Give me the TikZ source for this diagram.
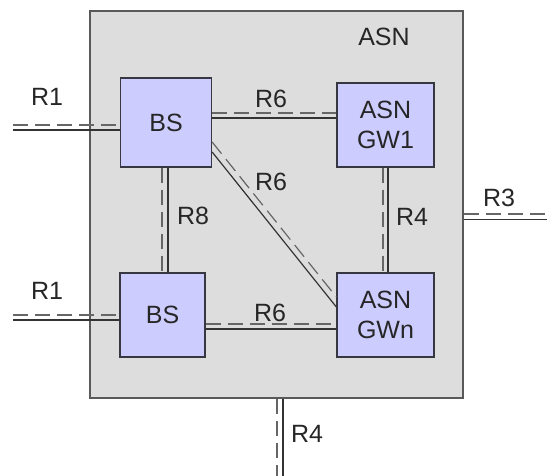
\documentclass[tikz,border=0pt]{standalone}
\usepackage{fontspec}
\setmainfont{Liberation Sans}
\usetikzlibrary{positioning}

\definecolor{asngray}{RGB}{221,221,221}
\definecolor{boxblue}{RGB}{204,204,255}
\definecolor{edgegray}{RGB}{55,55,65}

\begin{document}
\begin{tikzpicture}[
    x=1pt, y=-1pt,
    font=\fontsize{25}{30}\selectfont,
    text=black!85,
    asnarea/.style={draw=black!65, fill=asngray, line width=1.8pt, inner sep=0pt},
    entity/.style={draw=edgegray, fill=boxblue, line width=1.3pt, align=center, inner sep=0pt},
    bearer/.style={draw=black!80, line width=1.2pt},
    control/.style={draw=black!60, line width=1.2pt, dash pattern=on 15pt off 7pt},
]
\useasboundingbox (0,0) rectangle (547,476);

% Domain
\node[asnarea, minimum width=373, minimum height=387] (asn) at (276.5, 204.5) {};
\node (asnname) at (384, 37) {ASN};

% Elements
\node[entity, minimum width=91, minimum height=89] (bs1) at (166, 122.5) {BS};
\node[entity, minimum width=85, minimum height=84] (bs2) at (162.5, 315) {BS};
\node[entity, minimum width=97, minimum height=84] (gw1) at (385.5, 125) {ASN\\GW1};
\node[entity, minimum width=97, minimum height=84] (gwn) at (385.5, 315) {ASN\\GWn};

% Free ends
\coordinate (r1a) at (13, 122.5);
\coordinate (r1b) at (13, 315);
\coordinate (r3) at (547, 204.5);
\coordinate (r4) at (276.5, 476);

% R1
\draw[control] ([yshift=-2.5]r1a) -- ([yshift=-2.5]bs1.west);
\draw[bearer] ([yshift=-7.5]r1a) -- ([yshift=-7.5]bs1.west);
\draw[control] (r1b) -- (bs2.west);
\draw[bearer] ([yshift=-5]r1b) -- ([yshift=-5]bs2.west);

% R6
\draw[control] ([yshift=9.5]bs1.east) -- ([yshift=12]gw1.west);
\draw[bearer] ([yshift=4.5]bs1.east) -- ([yshift=7]gw1.west);
\draw[control] ([yshift=-9]bs2.east) -- ([yshift=-9]gwn.west);
\draw[bearer] ([yshift=-14]bs2.east) -- ([yshift=-14]gwn.west);
\draw[control] ([yshift=-19.5]bs1.east) -- ([yshift=18]gwn.west);
\draw[bearer] ([yshift=-29.5]bs1.east) -- ([yshift=8]gwn.west);

% R8, R4
\draw[control] ([xshift=-4]bs1.south) -- ([xshift=-0.5]bs2.north);
\draw[bearer] ([xshift=2]bs1.south) -- ([xshift=5.5]bs2.north);
\draw[control] ([xshift=-2.5]gw1.south) -- ([xshift=-2.5]gwn.north);
\draw[bearer] ([xshift=2.5]gw1.south) -- ([xshift=2.5]gwn.north);

% R3, R4 out
\draw[control] ([yshift=-9.5]asn.east) -- ([yshift=-9.5]r3);
\draw[bearer] ([yshift=-15]asn.east) -- ([yshift=-15]r3);
\draw[control] ([xshift=0.5]asn.south) -- ([xshift=0.5]r4);
\draw[bearer] ([xshift=6.5]asn.south) -- ([xshift=6.5]r4);

% Labels
\node (l1a) at (47, 97) {R1};
\node (l1b) at (47, 291) {R1};
\node (l6a) at (271, 99) {R6};
\node (l6b) at (271, 182) {R6};
\node (l6c) at (270, 313) {R6};
\node (l8) at (193, 216) {R8};
\node (l4a) at (412, 217) {R4};
\node (l3) at (499, 198) {R3};
\node (l4b) at (307, 434) {R4};

\end{tikzpicture}
\end{document}
